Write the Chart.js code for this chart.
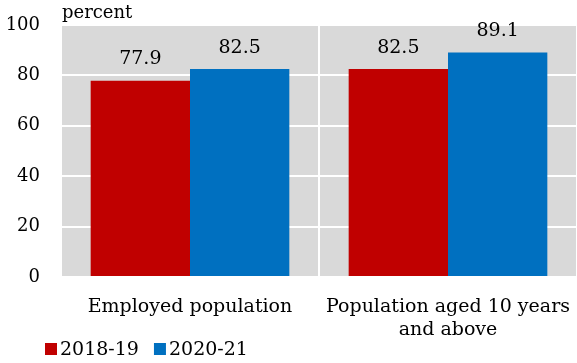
<!DOCTYPE html>
<html>
<head>
<meta charset="utf-8">
<script src="https://cdn.jsdelivr.net/npm/chart.js@4.4.1/dist/chart.umd.min.js"></script>
<style>
  html, body { margin: 0; padding: 0; background: #ffffff; }
  #contenedor { width: 577px; height: 363px; }
</style>
</head>
<body>
<div id="contenedor"><canvas id="graficoPoblacion"></canvas></div>
<script>
const categorias = [['Employed population'], ['Population aged 10 years', 'and above']];
const valores2018 = [77.9, 82.5];
const valores2020 = [82.5, 89.1];
const etiquetasSeries = ['2018-19', '2020-21'];
const marcasEjeY = [0, 20, 40, 60, 80, 100];

const fuente = "'DejaVu Serif', 'Liberation Serif', serif";

// fondo gris del area de trazado
const fondoArea = {
    id: 'fondoArea',
    beforeDraw(chart) {
        const { ctx, chartArea } = chart;
        ctx.save();
        ctx.fillStyle = '#d9d9d9';
        ctx.fillRect(chartArea.left, chartArea.top, chartArea.width, chartArea.height);
        ctx.restore();
    }
};

// valores encima de cada barra, unidad arriba y leyenda abajo
const textosExtra = {
    id: 'textosExtra',
    afterDatasetsDraw(chart) {
        const { ctx, chartArea } = chart;
        ctx.save();
        ctx.fillStyle = '#000000';
        ctx.font = '19px ' + fuente;
        ctx.textAlign = 'center';
        ctx.textBaseline = 'bottom';
        chart.data.datasets.forEach((ds, i) => {
            chart.getDatasetMeta(i).data.forEach((barra, j) => {
                ctx.fillText(ds.data[j].toFixed(1), barra.x, barra.y - 12);
            });
        });

        ctx.font = '18px ' + fuente;
        ctx.textAlign = 'left';
        ctx.textBaseline = 'alphabetic';
        ctx.fillText('percent', chartArea.left + 1, 18);

        // leyenda
        let x = 45;
        const y = 349;
        ctx.font = '19px ' + fuente;
        ctx.textBaseline = 'middle';
        chart.data.datasets.forEach(ds => {
            ctx.fillStyle = ds.backgroundColor;
            ctx.fillRect(x, y - 6, 12, 12);
            ctx.fillStyle = '#000000';
            ctx.fillText(ds.label, x + 15, y + 1);
            x += 15 + ctx.measureText(ds.label).width + 15;
        });
        ctx.restore();
    }
};

new Chart(document.getElementById('graficoPoblacion').getContext('2d'), {
    type: 'bar',
    data: {
        labels: categorias,
        datasets: [{
            label: etiquetasSeries[0],
            data: valores2018,
            backgroundColor: '#c00000',
            borderWidth: 0
        }, {
            label: etiquetasSeries[1],
            data: valores2020,
            backgroundColor: '#0070c0',
            borderWidth: 0
        }]
    },
    options: {
        responsive: true,
        maintainAspectRatio: false,
        animation: false,
        layout: { padding: { top: 25, right: 0, bottom: 0, left: 0 } },
        datasets: { bar: { categoryPercentage: 0.77, barPercentage: 1.0 } },
        scales: {
            x: {
                grid: { color: '#ffffff', lineWidth: 2, drawTicks: false },
                border: { display: false },
                ticks: {
                    color: '#000000',
                    font: { family: fuente, size: 19 },
                    padding: 19,
                    maxRotation: 0
                },
                afterFit(scale) {
                    scale.height = 86;
                    scale.paddingLeft = 0;
                    scale.paddingRight = 0;
                }
            },
            y: {
                min: 0,
                max: 100,
                afterBuildTicks(scale) { scale.ticks = marcasEjeY.map(v => ({ value: v })); },
                grid: { color: '#ffffff', lineWidth: 2, drawTicks: false },
                border: { display: false },
                ticks: {
                    color: '#000000',
                    font: { family: fuente, size: 18 },
                    padding: 21
                },
                afterFit(scale) {
                    scale.width = 61;
                    scale.paddingTop = 0;
                    scale.paddingBottom = 0;
                }
            }
        },
        plugins: {
            legend: { display: false },
            tooltip: { enabled: false }
        }
    },
    plugins: [fondoArea, textosExtra]
});
</script>
</body>
</html>
